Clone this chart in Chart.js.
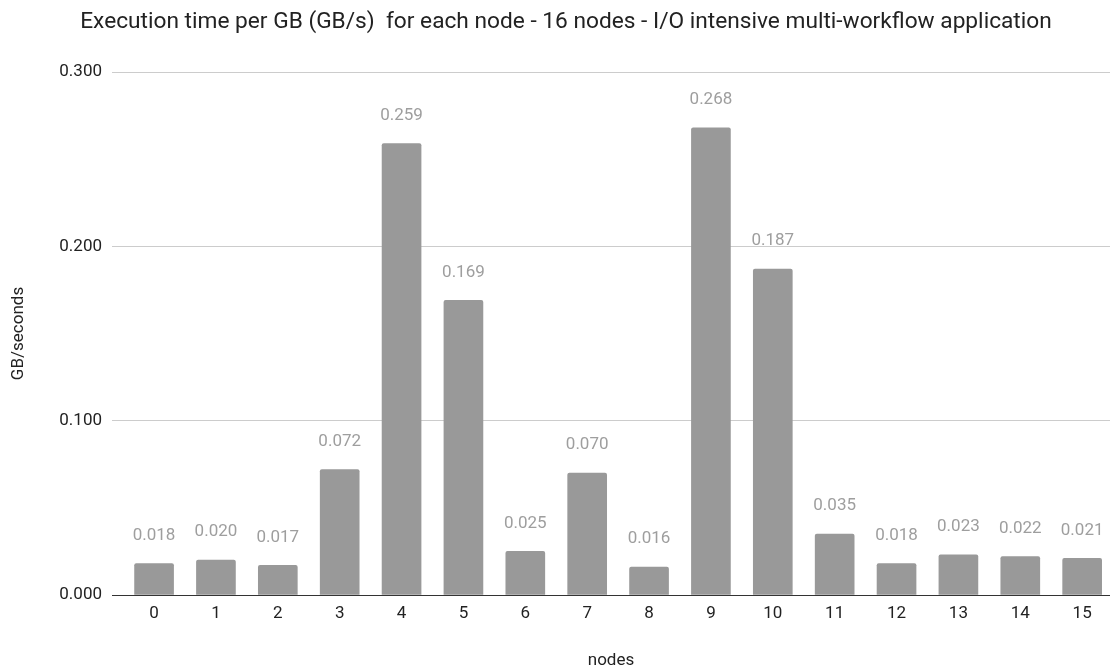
<!DOCTYPE html>
<html>
<head>
<meta charset="utf-8">
<script src="https://cdn.jsdelivr.net/npm/chart.js@4"></script>
<style>
  html, body { margin: 0; padding: 0; background: #fff; }
  #wrap { width: 1110px; height: 668px; }
</style>
</head>
<body>
<div id="wrap"><canvas id="c" width="1110" height="668"></canvas></div>
<script>
// Node indices and measured throughput per node
const nodes = [0, 1, 2, 3, 4, 5, 6, 7, 8, 9, 10, 11, 12, 13, 14, 15];
const gbPerSecond = [0.018, 0.020, 0.017, 0.072, 0.259, 0.169, 0.025, 0.070,
                     0.016, 0.268, 0.187, 0.035, 0.018, 0.023, 0.022, 0.021];
const yTicks = [0, 0.1, 0.2, 0.3];

const titleText = 'Execution time per GB (GB/s)  for each node - 16 nodes - I/O intensive multi-workflow application';
const FONT = 'Roboto, "Liberation Sans", Arial, sans-serif';

// Chart heading, drawn slightly right of the canvas centre
const heading = {
  id: 'heading',
  afterDraw(chart) {
    const ctx = chart.ctx;
    ctx.save();
    ctx.font = '22.7px ' + FONT;
    ctx.fillStyle = '#222222';
    ctx.textAlign = 'center';
    ctx.textBaseline = 'middle';
    ctx.fillText(titleText, chart.width / 2 + 11, 22);
    ctx.restore();
  }
};

// Value labels above each bar
const valueLabels = {
  id: 'valueLabels',
  afterDatasetsDraw(chart) {
    const ctx = chart.ctx;
    const meta = chart.getDatasetMeta(0);
    ctx.save();
    ctx.font = '17px ' + FONT;
    ctx.fillStyle = '#9e9e9e';
    ctx.textAlign = 'center';
    ctx.textBaseline = 'middle';
    meta.data.forEach((bar, i) => {
      ctx.fillText(gbPerSecond[i].toFixed(3), bar.x, bar.y - 28);
    });
    ctx.restore();
  }
};

// Dark baseline at zero
const baseline = {
  id: 'baseline',
  afterDatasetsDraw(chart) {
    const ctx = chart.ctx;
    const y = chart.scales.y.getPixelForValue(0);
    const a = chart.chartArea;
    ctx.save();
    ctx.strokeStyle = '#333333';
    ctx.lineWidth = 1;
    ctx.beginPath();
    ctx.moveTo(a.left, Math.round(y) + 0.5);
    ctx.lineTo(a.right, Math.round(y) + 0.5);
    ctx.stroke();
    ctx.restore();
  }
};

new Chart(document.getElementById('c'), {
  type: 'bar',
  data: {
    datasets: [{
      data: nodes.map((n, i) => ({ x: n, y: gbPerSecond[i] })),
      backgroundColor: '#999999',
      borderRadius: { topLeft: 2, topRight: 2 },
      borderSkipped: 'bottom',
      barThickness: 39
    }]
  },
  options: {
    responsive: false,
    animation: false,
    layout: { padding: { left: 0, right: 0, top: 72, bottom: 0 } },
    plugins: {
      legend: { display: false },
      tooltip: { enabled: false },
      title: { display: false }
    },
    scales: {
      x: {
        type: 'linear',
        offset: false,
        min: -0.68,
        max: 15.45,
        grid: { display: false, drawTicks: false },
        border: { display: false },
        afterBuildTicks(scale) {
          scale.ticks = nodes.map(n => ({ value: n }));
        },
        afterFit(scale) {
          scale.height = 73;
          scale.paddingLeft = 0;
          scale.paddingRight = 0;
        },
        ticks: {
          autoSkip: false,
          maxRotation: 0,
          padding: 9,
          color: '#222222',
          font: { family: FONT, size: 17 },
          callback: v => String(v)
        },
        title: {
          display: true,
          text: 'nodes',
          color: '#222222',
          font: { family: FONT, size: 17, lineHeight: 0.8 },
          padding: { top: 0, bottom: 0 }
        }
      },
      y: {
        min: 0,
        max: 0.3,
        afterBuildTicks(scale) {
          scale.ticks = yTicks.map(v => ({ value: v }));
        },
        afterFit(scale) {
          scale.width = 112;
          scale.paddingTop = 0;
          scale.paddingBottom = 0;
        },
        grid: { color: '#cccccc', drawTicks: false },
        border: { display: false },
        ticks: {
          padding: 10,
          color: '#222222',
          font: { family: FONT, size: 17 },
          callback: v => Number(v).toFixed(3)
        },
        title: {
          display: true,
          text: 'GB/seconds',
          color: '#222222',
          font: { family: FONT, size: 17 },
          padding: { top: 9, bottom: 0 }
        }
      }
    }
  },
  plugins: [valueLabels, baseline, heading]
});
</script>
</body>
</html>
